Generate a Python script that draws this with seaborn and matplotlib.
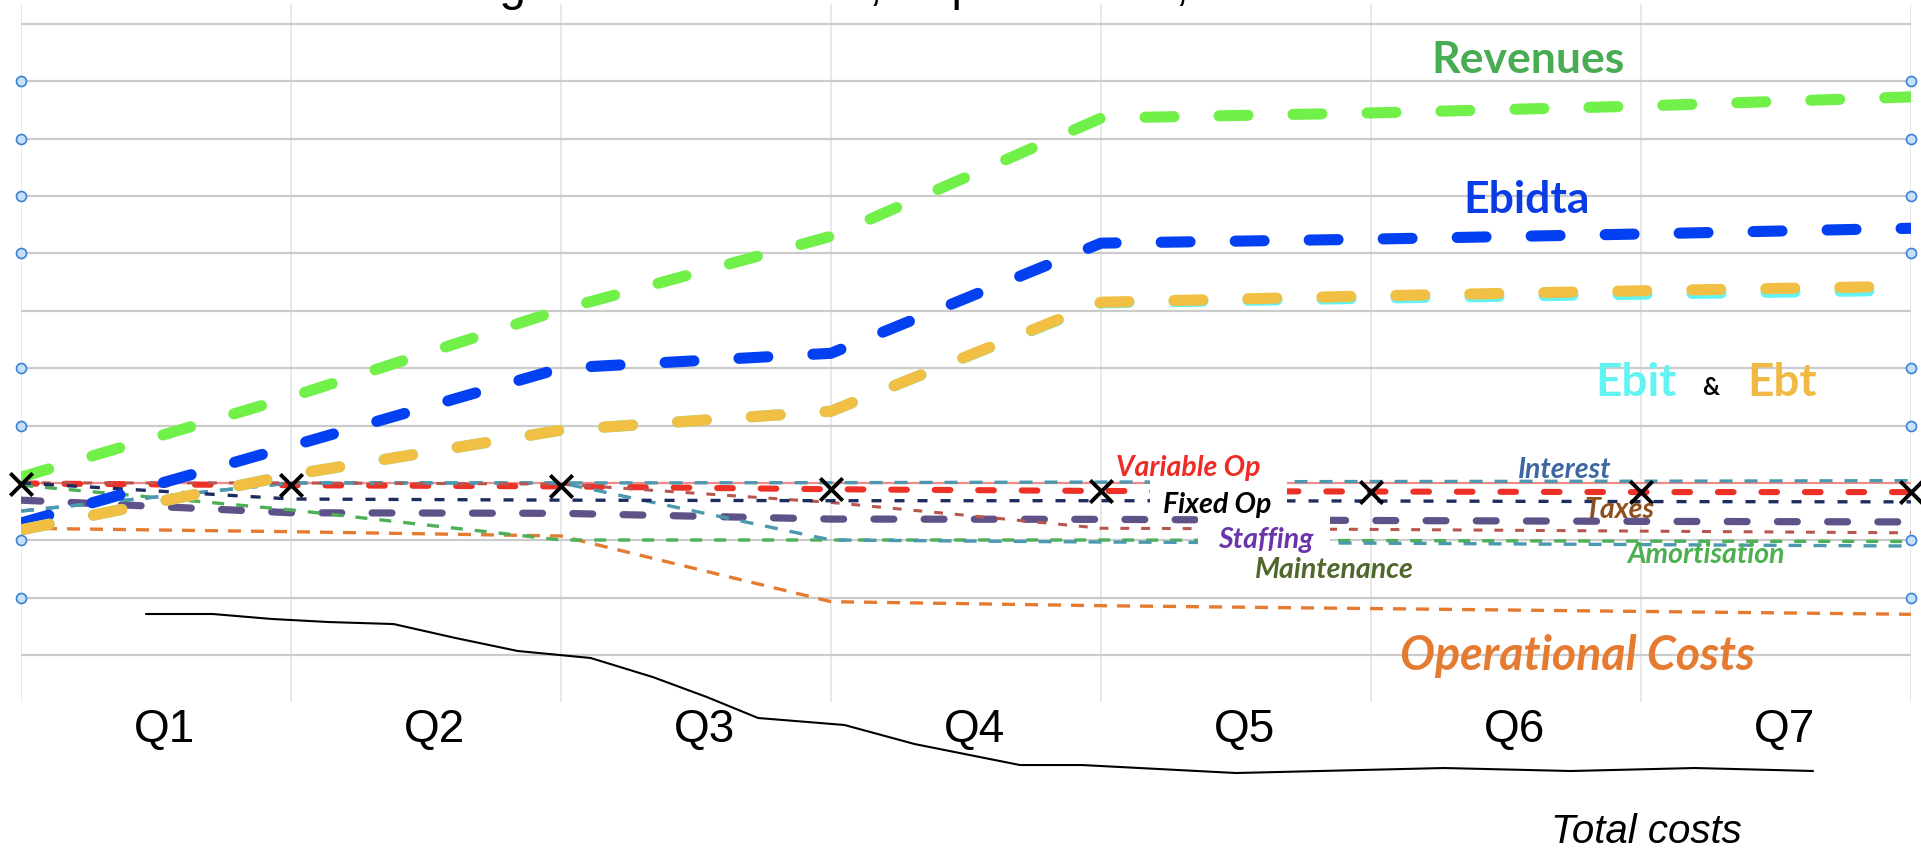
import matplotlib
matplotlib.use("Agg")
import matplotlib.pyplot as plt
from matplotlib.patches import Rectangle
import numpy as np
import pandas as pd
import seaborn as sns

# ---------------------------------------------------------------------------
# Data (arbitrary units; grid lines every 10 units)
# ---------------------------------------------------------------------------
periods = [0, 1, 2, 3, 4, 5, 6, 7]
quarter_labels = ["Q1", "Q2", "Q3", "Q4", "Q5", "Q6", "Q7"]

revenues = [31.0, 45.0, 60.2, 73.0, 93.6, 94.5, 95.7, 97.3]
ebidta = [23.0, 36.4, 50.0, 52.6, 71.8, 72.5, 73.4, 74.4]
ebit = [21.8, 31.4, 39.2, 42.5, 61.4, 62.2, 62.9, 63.6]
ebt = [21.8, 31.4, 39.2, 42.5, 61.5, 62.6, 63.5, 64.3]

variable_op = [29.9, 29.6, 29.4, 28.9, 28.6, 28.5, 28.4, 28.4]
fixed_op = [30.0, 27.2, 27.0, 26.9, 26.9, 26.85, 26.75, 26.7]
staffing = [27.0, 24.8, 24.7, 23.7, 23.65, 23.45, 23.3, 23.2]
interest = [25.1, 30.0, 30.0, 30.05, 30.15, 30.25, 30.3, 30.4]
amortisation = [25.1, 30.0, 30.0, 20.05, 19.7, 19.5, 19.25, 19.0]
maintenance = [29.6, 25.3, 20.05, 20.05, 20.05, 19.95, 19.85, 19.8]
taxes = [30.0, 30.0, 29.8, 26.6, 22.1, 21.9, 21.6, 21.3]
operational_costs = [22.1, 21.5, 20.75, 9.3, 8.6, 8.1, 7.6, 7.1]

total_cost_x = [0.46, 0.71, 0.93, 1.14, 1.38, 1.61, 1.84, 2.11, 2.34, 2.54,
                2.73, 3.05, 3.31, 3.70, 3.93, 4.50, 5.27, 5.74, 6.20, 6.64]
total_costs = [7.15, 7.15, 6.28, 5.75, 5.40, 2.96, 0.70, -0.52, -3.84, -7.32,
               -10.98, -12.20, -15.52, -19.18, -19.18, -20.57, -19.70, -20.22,
               -19.70, -20.22]

grid_levels = [0, 10, 20, 30, 40, 50, 60, 70, 80, 90, 100, 110]
highlight_level = 30
handle_levels = [100, 90, 80, 70, 50, 40, 20, 10]

title_text = "Understanding Total Revenues, Expenditures, Costs and Profit"

# ---------------------------------------------------------------------------
# Style
# ---------------------------------------------------------------------------
sns.set_theme(style="white")
plt.rcParams["font.family"] = ["Liberation Sans", "DejaVu Sans"]
LABEL_FONT = ["Lato", "DejaVu Sans"]

W, H = 1921, 852
fig = plt.figure(figsize=(W / 100, H / 100), dpi=100)
fig.patch.set_facecolor("white")
ax = fig.add_axes([21 / W, 150 / H, 1890 / W, 698 / H])
ax.set_facecolor("white")
for sp in ax.spines.values():
    sp.set_visible(False)
ax.set_xlim(0, 7)
ax.set_ylim(-8.19, 113.49)

# grid
ax.vlines(periods, -8.19, 113.49, color="#E2E2E2", lw=1.1, zorder=0.5)
ax.hlines(grid_levels, 0, 7, color="#CBCBCB", lw=1.6, zorder=0.6)
ax.hlines([highlight_level], 0, 7, color="#F28A8A", lw=1.5, zorder=0.7)


def series(xs, ys, color, lw, dash, cap="butt", z=2, **kw):
    df = pd.DataFrame({"x": xs, "y": ys})
    sns.lineplot(data=df, x="x", y="y", ax=ax, color=color, lw=lw,
                 estimator=None, sort=False, zorder=z,
                 linestyle=(0, dash) if dash else "-",
                 dash_capstyle=cap, solid_capstyle=cap, **kw)


THICK = 8.0
thick_dash = (2.6, 4.06)

series(periods, staffing, "#5F5289", 5.2, (2.75, 4.2), "round", 2.0)
series(periods, variable_op, "#EE3126", 4.4, (2.56, 4.56), "round", 2.1)
series(periods, operational_costs, "#E47B31", 2.4, (3.9, 3.0), "butt", 2.2)
series(periods, maintenance, "#4DAF57", 2.4, (3.6, 3.6), "butt", 2.3)
series(periods, amortisation, "#4B98AF", 2.4, (3.9, 3.6), "butt", 2.4)
series(periods, interest, "#4B98AF", 2.4, (3.9, 3.6), "butt", 2.45)
series(periods, taxes, "#B9554F", 2.2, (2.9, 3.9), "butt", 2.5)
series(periods, fixed_op, "#1E2D5F", 2.4, (3.0, 3.9), "butt", 2.6)

# white backing behind the two inline labels
ax.add_patch(Rectangle((4.181, 24.93), 0.508, 6.10, facecolor="white",
                       edgecolor="none", zorder=3))
ax.add_patch(Rectangle((4.359, 17.26), 0.489, 7.32, facecolor="white",
                       edgecolor="none", zorder=3))

series(periods, ebidta, "#0340F2", THICK, thick_dash, "round", 4.0)
series(periods, ebit, "#62F4F4", THICK, thick_dash, "round", 4.1)
series(periods, ebt, "#F2BF45", THICK, thick_dash, "round", 4.2)
series(periods, revenues, "#72F04A", THICK, thick_dash, "round", 4.3)

series(total_cost_x, total_costs, "black", 1.5, None, "butt", 4.5,
       clip_on=False)

# quarter-end markers on the variable operating cost line
sns.scatterplot(x=periods, y=variable_op, ax=ax, marker="x", s=260,
                color="black", linewidth=2.8, zorder=6, clip_on=False,
                legend=False)

# edge handles
for edge in (0, 7):
    ax.scatter([edge] * len(handle_levels), handle_levels, s=52,
               facecolor="#C6E0F8", edgecolor="#3B82D6", linewidths=1.2,
               zorder=6, clip_on=False)

# axis ticks
ax.set_xticks([i + 0.53 for i in range(len(quarter_labels))])
ax.set_xticklabels(quarter_labels, fontsize=33, color="black",
                   family=["Liberation Sans", "DejaVu Sans"])
ax.set_yticks([])
ax.tick_params(axis="x", length=0, pad=4.5)
ax.set_xlabel("")
ax.set_ylabel("")


def label(x, y, s, color, size, style="normal", z=7):
    ax.text(x, y, s, color=color, fontsize=size, fontweight="bold",
            fontstyle=style, family=LABEL_FONT, ha="center", va="center",
            zorder=z)


label(5.581, 103.73, "Revenues", "#47AC52", 32)
label(5.578, 79.32, "Ebidta", "#0A3CE6", 32)
label(5.981, 47.42, "Ebit", "#62F4F2", 33)
label(6.259, 46.6, "&", "black", 17)
label(6.522, 47.42, "Ebt", "#F0B942", 33)
label(4.322, 32.6, "Variable Op", "#EE2B24", 20.5, "italic")
label(4.430, 26.15, "Fixed Op", "black", 20.5, "italic")
label(4.611, 20.05, "Staffing", "#6B35AA", 20.5, "italic")
label(4.863, 14.82, "Maintenance", "#4F672A", 20.5, "italic")
label(5.719, 32.25, "Interest", "#3E66A3", 20.5, "italic")
label(5.919, 25.28, "Taxes", "#8E4F1E", 20.5, "italic")
label(6.241, 17.43, "Amortisation", "#4CB04F", 20.5, "italic")
label(5.763, -0.17, "Operational Costs", "#E47B31", 33.5, "italic")

fig.text(1646 / W, 1 - 832 / H, "Total costs", fontsize=29,
         fontstyle="italic", color="black", ha="center", va="center",
         family=["Liberation Sans", "DejaVu Sans"])

# heading sits at the very top edge of the canvas
fig.text(214 / W, 1.0, title_text, fontsize=34.5, color="black",
         ha="left", va="baseline", family=["Liberation Sans", "DejaVu Sans"])

fig.savefig("out.png", dpi=100)
